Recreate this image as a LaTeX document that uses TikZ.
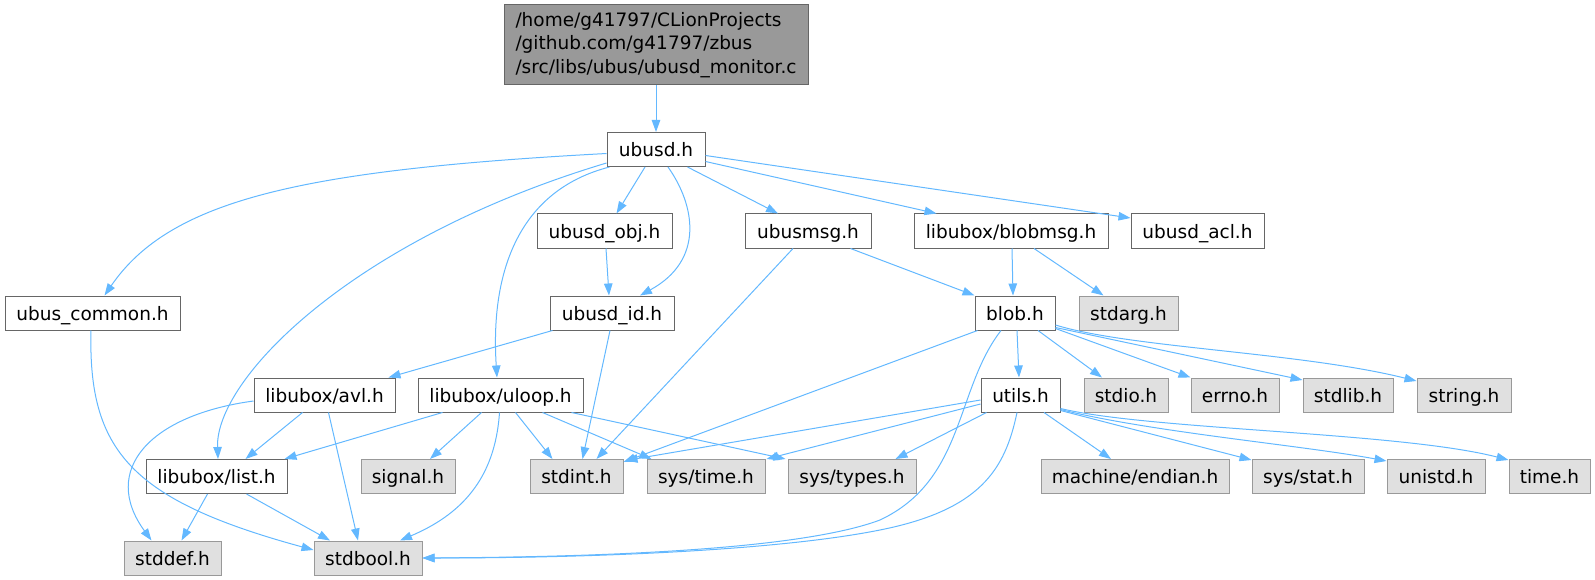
\documentclass[tikz,border=0pt]{standalone}
\usepackage{fontspec}
\setmainfont{DejaVu Sans}
\usetikzlibrary{arrows.meta,calc}
\definecolor{cedge}{HTML}{63B8FF}
\definecolor{cdark}{HTML}{666666}
\definecolor{cmid}{HTML}{999999}
\definecolor{clight}{HTML}{E0E0E0}
\tikzset{
  box/.style={draw, line width=1pt, minimum height=34pt, inner sep=0pt, text height=14pt, text depth=0pt, anchor=center},
  hnode/.style={box, draw=cdark, fill=white},
  snode/.style={box, draw=cmid, fill=clight},
  dep/.style={draw=cedge, line width=1pt, -{Triangle[length=12pt,width=8.5pt]}},
}
\begin{document}
\begin{tikzpicture}[x=1pt,y=-1pt,font=\fontsize{18.5}{23.5}\selectfont]
\useasboundingbox (0,0) rectangle (1595,580);
\node[draw=cdark, fill=cmid, line width=1pt, minimum width=304pt, minimum height=80pt, inner sep=0pt, align=left] (root) at (656,45) {/home/g41797/CLionProjects\\/github.com/g41797/zbus\\/src/libs/ubus/ubusd\_monitor.c};
\node[hnode, minimum width=98pt] (ubusd) at (656,149.5) {ubusd.h};
\node[hnode, minimum width=135pt] (obj) at (604.5,231) {ubusd\_obj.h};
\node[hnode, minimum width=126pt] (msg) at (808,231) {ubusmsg.h};
\node[hnode, minimum width=194pt] (bm) at (1011,231) {libubox/blobmsg.h};
\node[hnode, minimum width=133pt] (acl) at (1197.5,231) {ubusd\_acl.h};
\node[hnode, minimum width=175pt] (uc) at (92.5,313) {ubus\_common.h};
\node[hnode, minimum width=124pt] (id) at (612,313) {ubusd\_id.h};
\node[hnode, minimum width=80pt] (blob) at (1015,313) {blob.h};
\node[snode, minimum width=99pt] (stdarg) at (1128.5,313) {stdarg.h};
\node[hnode, minimum width=141pt] (avl) at (324.5,395) {libubox/avl.h};
\node[hnode, minimum width=165pt] (uloop) at (500.5,395) {libubox/uloop.h};
\node[hnode, minimum width=79pt] (utils) at (1020.5,395) {utils.h};
\node[snode, minimum width=84pt] (stdio) at (1126,395) {stdio.h};
\node[snode, minimum width=88pt] (errno) at (1235,395) {errno.h};
\node[snode, minimum width=90pt] (stdlib) at (1348,395) {stdlib.h};
\node[snode, minimum width=94pt] (string) at (1464,395) {string.h};
\node[hnode, minimum width=141pt] (list) at (216.5,476.5) {libubox/list.h};
\node[snode, minimum width=94pt] (signal) at (408,476.5) {signal.h};
\node[snode, minimum width=93pt] (stdint) at (576.5,476.5) {stdint.h};
\node[snode, minimum width=118pt] (systime) at (706,476.5) {sys/time.h};
\node[snode, minimum width=128pt] (systypes) at (852,476.5) {sys/types.h};
\node[snode, minimum width=188pt] (endian) at (1135,476.5) {machine/endian.h};
\node[snode, minimum width=112pt] (sysstat) at (1308,476.5) {sys/stat.h};
\node[snode, minimum width=98pt] (unistd) at (1436,476.5) {unistd.h};
\node[snode, minimum width=81pt] (timeh) at (1549.5,476.5) {time.h};
\node[snode, minimum width=97pt] (stddef) at (172.5,558) {stddef.h};
\node[snode, minimum width=108pt] (stdbool) at (368,558) {stdbool.h};
% edges
\draw[dep] (root.south) -- (ubusd.north);
\draw[dep] ($(ubusd.west)+(0,4)$) .. controls (300,170) and (170,200) .. ($(uc.north)+(12,0)$);
\draw[dep] ($(ubusd.south west)+(0,-4)$) .. controls (350,240) and (215,380) .. ($(list.north)+(1.5,0)$);
\draw[dep] ($(ubusd.south west)+(3,0)$) .. controls (520,190) and (490,270) .. ($(uloop.north)+(-3.5,0)$);
\draw[dep] ($(ubusd.south)+(-11,0)$) -- ($(obj.north)+(12,0)$);
\draw[dep] ($(ubusd.south)+(12,0)$) .. controls (695,205) and (705,260) .. ($(id.north)+(28,0)$);
\draw[dep] ($(ubusd.south east)+(-18,0)$) -- ($(msg.north)+(-30,0)$);
\draw[dep] ($(ubusd.east)+(0,12)$) -- ($(bm.north west)+(23,0)$);
\draw[dep] ($(ubusd.east)+(0,6)$) -- ($(acl.west)+(0,-13)$);
\draw[dep] ($(obj.south)+(1.5,0)$) -- ($(id.north)+(-3,0)$);
\draw[dep] ($(id.south west)+(3,0)$) -- ($(avl.north east)+(-7,0)$);
\draw[dep] ($(id.south)+(-2,0)$) -- ($(stdint.north)+(6,0)$);
\draw[dep] ($(msg.south)+(-15,0)$) -- ($(stdint.north)+(20,0)$);
\draw[dep] ($(msg.south east)+(-21,0)$) -- (blob.north west);
\draw[dep] ($(bm.south)+(1,0)$) -- ($(blob.north)+(-2,0)$);
\draw[dep] ($(bm.south)+(23,0)$) -- ($(stdarg.north)+(-25,0)$);
\draw[dep] ($(blob.south)+(2,0)$) -- ($(utils.north)+(-1.5,0)$);
\draw[dep] ($(blob.south)+(23,0)$) -- ($(stdio.north)+(-24,0)$);
\draw[dep] ($(blob.south east)+(0,-2)$) -- (errno.north west);
\draw[dep] ($(blob.south east)+(0,-3)$) -- ($(stdlib.west)+(0,-15)$);
\draw[dep] ($(blob.east)+(0,12)$) .. controls (1130,348) and (1300,352) .. ($(string.west)+(0,-14)$);
\draw[dep] ($(blob.south west)+(3,0)$) -- ($(stdint.north east)+(0,3)$);
\draw[dep] ($(blob.south)+(-14,0)$) .. controls (955,390) and (965,480) .. (880,520) .. controls (800,550) and (600,557) .. (stdbool.east);
\draw[dep] ($(utils.west)+(0,5)$) -- ($(stdint.north east)+(2,1.5)$);
\draw[dep] ($(utils.west)+(0,9)$) -- ($(systime.north east)+(1,0)$);
\draw[dep] ($(utils.south west)+(6,0)$) -- ($(systypes.north east)+(-21,0)$);
\draw[dep] ($(utils.south)+(23.5,0)$) -- ($(endian.north)+(-24,0)$);
\draw[dep] ($(utils.south east)+(0,-2)$) -- ($(sysstat.north west)+(0,1)$);
\draw[dep] ($(utils.south east)+(0,-3)$) .. controls (1150,432) and (1300,445) .. ($(unistd.north west)+(0,2)$);
\draw[dep] ($(utils.south east)+(0,-4)$) .. controls (1150,430) and (1400,432) .. ($(timeh.north west)+(0,1)$);
\draw[dep] ($(utils.south)+(-3.5,0)$) .. controls (1005,470) and (980,510) .. (880,530) .. controls (780,550) and (600,558) .. (stdbool.east);
\draw[dep] ($(uc.south)+(-1.5,0)$) .. controls (88,450) and (130,500) .. ($(stdbool.west)+(0,-8)$);
\draw[dep] ($(avl.south)+(-22,0)$) -- ($(list.north east)+(-42,0)$);
\draw[dep] ($(avl.west)+(0,6)$) .. controls (150,415) and (100,470) .. ($(stddef.north)+(-21,0)$);
\draw[dep] ($(avl.south)+(4,0)$) -- ($(stdbool.north)+(-10,0)$);
\draw[dep] ($(list.south)+(-9,0)$) -- ($(stddef.north)+(9,0)$);
\draw[dep] ($(list.south)+(30,0)$) -- ($(stdbool.north)+(-38,0)$);
\draw[dep] ($(uloop.south west)+(25,0)$) -- ($(list.north east)+(-3,0)$);
\draw[dep] ($(uloop.south)+(-19,0)$) -- ($(signal.north)+(22,0)$);
\draw[dep] ($(uloop.south)+(-1,0)$) .. controls (495,480) and (460,515) .. ($(stdbool.north)+(32,0)$);
\draw[dep] ($(uloop.south)+(15,0)$) -- ($(stdint.north)+(-24,0)$);
\draw[dep] ($(uloop.south)+(42,0)$) -- ($(systime.north west)+(5,0)$);
\draw[dep] ($(uloop.south east)+(-12,0)$) -- ($(systypes.north west)+(-2,0)$);
\end{tikzpicture}
\end{document}
